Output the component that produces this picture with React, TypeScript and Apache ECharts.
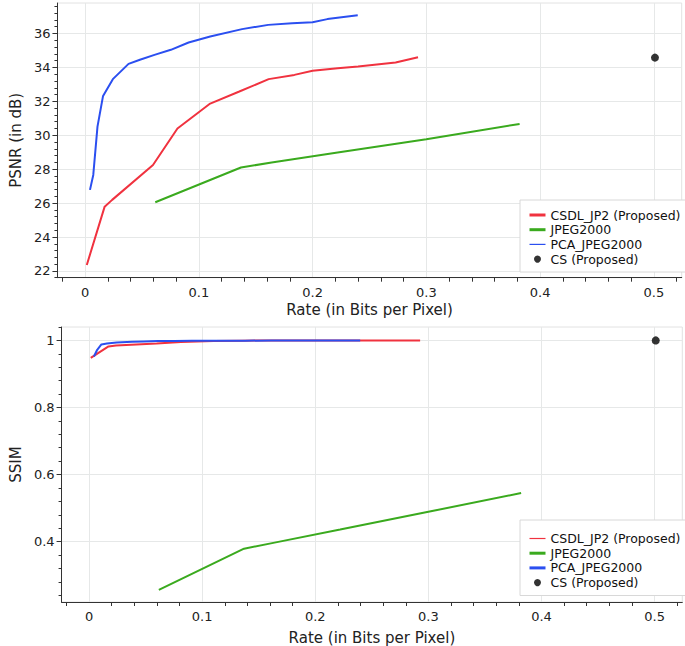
import React, { useEffect, useRef } from 'react';
import * as echarts from 'echarts';

// ---- Data ----
const rateCSDL = [0.0015, 0.0172, 0.0238, 0.0597, 0.0812, 0.11, 0.1356, 0.1614, 0.184, 0.2, 0.222, 0.24, 0.273, 0.2927];
const psnrCSDL = [22.35, 25.79, 26.19, 28.25, 30.4, 31.87, 32.58, 33.31, 33.56, 33.8, 33.95, 34.05, 34.29, 34.6];
const ssimCSDL = [0.948, 0.982, 0.985, 0.991, 0.995, 0.998, 0.999, 1, 1, 1, 1, 1, 1, 1];

const rateJPEG = [0.0617, 0.137, 0.164, 0.222, 0.3, 0.382];
const psnrJPEG = [26.05, 28.1, 28.39, 28.98, 29.77, 30.67];
const ssimJPEG = [0.256, 0.379, 0.397, 0.436, 0.489, 0.545];

const ratePCA = [0.0043, 0.0072, 0.0109, 0.0158, 0.0244, 0.0382, 0.0482, 0.061, 0.0754, 0.091, 0.11, 0.138, 0.161, 0.182, 0.2, 0.213, 0.2397];
const psnrPCA = [26.78, 27.66, 30.51, 32.32, 33.31, 34.21, 34.45, 34.74, 35.04, 35.47, 35.82, 36.26, 36.51, 36.61, 36.67, 36.85, 37.08];
const ssimPCA = [0.952, 0.972, 0.988, 0.991, 0.994, 0.996, 0.997, 0.998, 0.998, 0.999, 0.999, 0.999, 1, 1, 1, 1, 1];

const rateCS = [0.501];
const psnrCS = [34.58];
const ssimCS = [1.0];

const seriesNames = ['CSDL_JP2 (Proposed)', 'JPEG2000', 'PCA_JPEG2000', 'CS (Proposed)'];

// ---- Tick values ----
const xMajorTicks = [0, 0.1, 0.2, 0.3, 0.4, 0.5];
const xMinorTicks = [-0.02, 0.02, 0.04, 0.06, 0.08, 0.12, 0.14, 0.16, 0.18, 0.22, 0.24, 0.26, 0.28, 0.32, 0.34, 0.36, 0.38, 0.42, 0.44, 0.46, 0.48, 0.52];
const psnrMajorTicks = [22, 24, 26, 28, 30, 32, 34, 36];
const ssimMajorTicks = [0.4, 0.6, 0.8, 1];

const FONT = 'DejaVu Sans';
const RED = '#f0323f';
const GREEN = '#3aaa1e';
const BLUE = '#2b4ff0';
const AXIS = '#333';
const GRIDC = '#e6e8e8';

const X_MIN = -0.0243;
const X_MAX = 0.5245;

function pairs(xs: number[], ys: number[]) {
  return xs.map((x, i) => [x, ys[i]]);
}

function minorRange(start: number, end: number, step: number) {
  const out: number[] = [];
  const n = Math.round((end - start) / step);
  for (let i = 0; i <= n; i++) out.push(Math.round((start + i * step) * 1000) / 1000);
  return out;
}

export default function App() {
  const ref = useRef<HTMLDivElement>(null);

  useEffect(() => {
    document.body.style.margin = '0';
    if (!ref.current) return;
    const chart = echarts.init(ref.current, undefined, { renderer: 'svg' });

    const psnrMinor = minorRange(21.6, 37.6, 0.4);
    const ssimMinor = minorRange(0.24, 1.04, 0.04);

    const labelStyle = { fontFamily: FONT, fontSize: 13, color: '#222' };
    const nameStyle = { fontFamily: FONT, fontSize: 15, color: '#222' };

    const xPrimary = (grid: number, gap: number) => ({
      type: 'value',
      gridIndex: grid,
      position: 'bottom',
      min: X_MIN,
      max: X_MAX,
      name: 'Rate (in Bits per Pixel)',
      nameLocation: 'middle',
      nameGap: gap,
      nameTextStyle: nameStyle,
      axisLine: { show: true, onZero: false, lineStyle: { color: AXIS, width: 1 } },
      axisTick: { show: false, customValues: xMajorTicks },
      axisLabel: { show: true, customValues: xMajorTicks, margin: 8, ...labelStyle },
      splitLine: { show: true, lineStyle: { color: GRIDC, width: 1 } },
    });
    const xMinor = (grid: number) => ({
      type: 'value',
      gridIndex: grid,
      position: 'bottom',
      min: X_MIN,
      max: X_MAX,
      axisLine: { show: false, onZero: false },
      axisTick: { show: true, customValues: xMinorTicks, length: 4, lineStyle: { color: AXIS } },
      axisLabel: { show: false },
      splitLine: { show: false },
    });
    const yPrimary = (grid: number, min: number, max: number, ticks: number[], name: string, gap: number) => ({
      type: 'value',
      gridIndex: grid,
      position: 'left',
      min,
      max,
      name,
      nameLocation: 'middle',
      nameGap: gap,
      nameTextStyle: nameStyle,
      axisLine: { show: true, onZero: false, lineStyle: { color: AXIS, width: 1 } },
      axisTick: { show: true, customValues: ticks, length: 5, lineStyle: { color: AXIS } },
      axisLabel: { show: true, customValues: ticks, margin: 7, ...labelStyle },
      splitLine: { show: true, lineStyle: { color: GRIDC, width: 1 } },
    });
    const yMinor = (grid: number, min: number, max: number, ticks: number[]) => ({
      type: 'value',
      gridIndex: grid,
      position: 'left',
      offset: 0,
      min,
      max,
      axisLine: { show: false, onZero: false },
      axisTick: { show: true, customValues: ticks, length: 3, lineStyle: { color: AXIS } },
      axisLabel: { show: false },
      splitLine: { show: false },
    });

    const hiddenDot = { opacity: 0 };
    const legend = (top: number, padTop: number, widths: number[]) => ({
      show: true,
      orient: 'vertical',
      left: 520,
      top,
      padding: [padTop, 6, 6.4, 8],
      itemWidth: 16,
      itemHeight: 7,
      itemGap: 1.7,
      borderColor: '#d8d8d8',
      borderWidth: 1,
      backgroundColor: '#fff',
      textStyle: { fontFamily: FONT, fontSize: 12.5, lineHeight: 13, color: '#111' },
      data: [
        { name: seriesNames[0], lineStyle: { width: widths[0] }, itemStyle: hiddenDot },
        { name: seriesNames[1], lineStyle: { width: widths[1] }, itemStyle: hiddenDot },
        { name: seriesNames[2], lineStyle: { width: widths[2] }, itemStyle: hiddenDot },
        { name: seriesNames[3], icon: 'circle' },
      ],
    });

    const lineSeries = (name: string, color: string, xi: number, yi: number, data: number[][]) => ({
      name,
      type: 'line',
      xAxisIndex: xi,
      yAxisIndex: yi,
      data,
      symbol: 'none',
      showSymbol: false,
      lineStyle: { color, width: 2 },
      itemStyle: { color },
      silent: true,
    });
    const csSeries = (xi: number, yi: number, data: number[][]) => ({
      name: seriesNames[3],
      type: 'scatter',
      xAxisIndex: xi,
      yAxisIndex: yi,
      data,
      symbol: 'circle',
      symbolSize: 8,
      itemStyle: { color: '#000' },
      silent: true,
    });

    chart.setOption({
      animation: false,
      backgroundColor: '#fff',
      textStyle: { fontFamily: FONT },
      grid: [
        { left: 44, top: 3, width: 637.7, height: 274.7, show: true, borderColor: '#e2e2e2', borderWidth: 1, backgroundColor: 'transparent' },
        { left: 49.3, top: 327, width: 633, height: 275, show: true, borderColor: '#e2e2e2', borderWidth: 1, backgroundColor: 'transparent' },
      ],
      xAxis: [xPrimary(0, 25), xMinor(0), xPrimary(1, 28), xMinor(1)],
      yAxis: [
        yPrimary(0, 21.6, 37.8, psnrMajorTicks, 'PSNR (in dB)', 24),
        yMinor(0, 21.6, 37.8, psnrMinor),
        yPrimary(1, 0.22, 1.04, ssimMajorTicks, 'SSIM', 32),
        yMinor(1, 0.22, 1.04, ssimMinor),
      ],
      legend: [legend(200, 8.5, [3, 3, 1.2]), legend(520, 12, [1.2, 3, 3])],
      series: [
        lineSeries(seriesNames[0], RED, 0, 0, pairs(rateCSDL, psnrCSDL)),
        lineSeries(seriesNames[1], GREEN, 0, 0, pairs(rateJPEG, psnrJPEG)),
        lineSeries(seriesNames[2], BLUE, 0, 0, pairs(ratePCA, psnrPCA)),
        csSeries(0, 0, pairs(rateCS, psnrCS)),
        lineSeries(seriesNames[0], RED, 2, 2, pairs(rateCSDL, ssimCSDL)),
        lineSeries(seriesNames[1], GREEN, 2, 2, pairs(rateJPEG, ssimJPEG)),
        lineSeries(seriesNames[2], BLUE, 2, 2, pairs(ratePCA, ssimPCA)),
        csSeries(2, 2, pairs(rateCS, ssimCS)),
      ],
    });

    return () => {
      chart.dispose();
    };
  }, []);

  return <div ref={ref} style={{ width: 685, height: 646 }} />;
}
